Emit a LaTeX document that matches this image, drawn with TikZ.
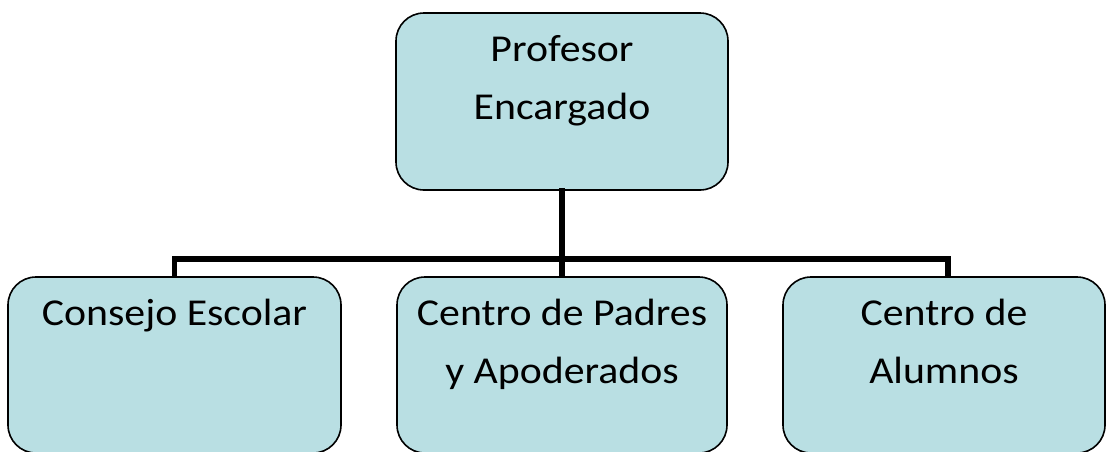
\documentclass[tikz,border=0pt]{standalone}
\usepackage{fontspec}
\setmainfont{Carlito}[FakeStretch=1.1]
\definecolor{boxfill}{HTML}{B9DFE3}
\begin{document}
\begin{tikzpicture}[x=1pt,y=-1pt,
  orgbox/.style={draw=black, line width=1.6pt, fill=boxfill, rounded corners=28pt, inner sep=0pt},
  lbl/.style={anchor=north, inner sep=0pt, align=center, font=\fontsize{38}{57.7}\selectfont},
  link/.style={line width=5.5pt, line cap=rect}]
\useasboundingbox (0,0) rectangle (1106,451);
\node[orgbox, minimum width=332pt, minimum height=177pt] (top) at (562,101.5) {};
\node[orgbox, minimum width=333pt, minimum height=176pt] (left) at (174.5,365) {};
\node[orgbox, minimum width=330pt, minimum height=176pt] (mid) at (562,365) {};
\node[orgbox, minimum width=322pt, minimum height=176pt] (right) at (944,365) {};
\node[lbl] (toptext) at ([yshift=-23pt]top.north) {Profesor\\Encargado};
\node[lbl] (lefttext) at ([yshift=-23pt]left.north) {Consejo Escolar};
\node[lbl] (midtext) at ([yshift=-23pt]mid.north) {Centro de Padres\\y Apoderados};
\node[lbl] (righttext) at ([yshift=-23pt]right.north) {Centro de\\Alumnos};
\coordinate (bar) at (562,259);
\coordinate (rtop) at ([xshift=4pt]right.north);
\draw[link] (top.south) -- (bar);
\draw[link, line cap=butt] (left.north) |- (bar) -| (rtop);
\draw[link, line cap=butt] (bar) -- (mid.north);
\end{tikzpicture}
\end{document}
